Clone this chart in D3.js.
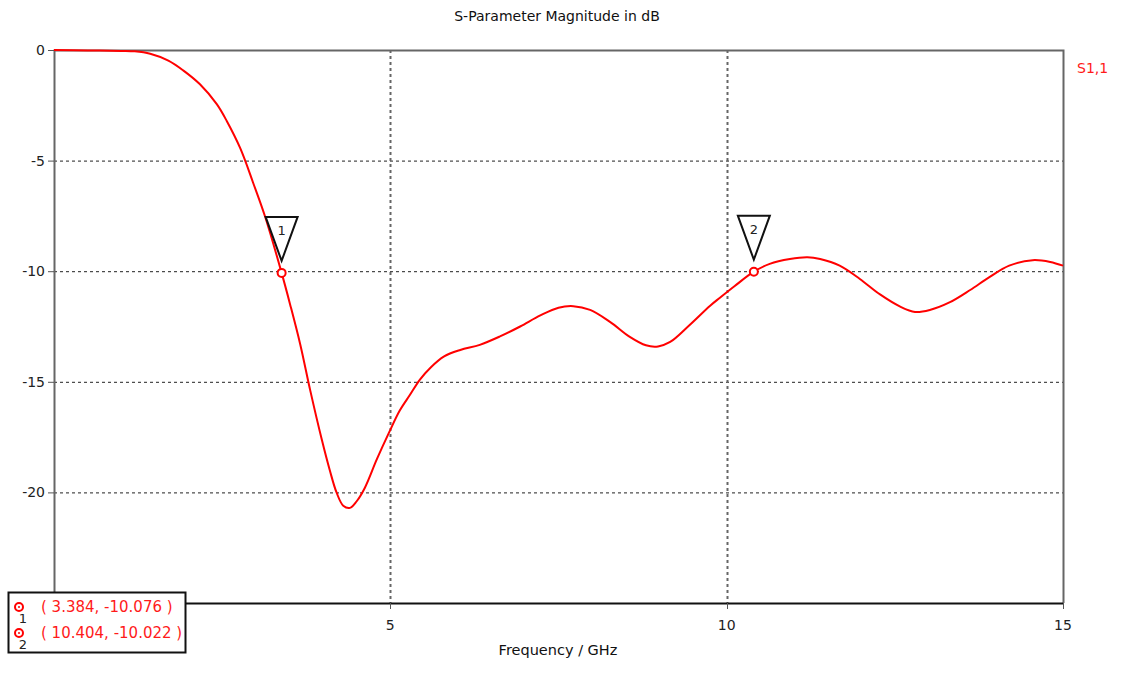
<!DOCTYPE html>
<html>
<head>
<meta charset="utf-8">
<script src="https://cdn.jsdelivr.net/npm/d3@7"></script>
<style>
  body { margin : 0; background : white; }
  text { font-family : "DejaVu Sans", sans-serif; }
</style>
</head>
<body>
<svg id="chart"></svg>
<script>
console.log("s-parameter chart loaded");

//frequency samples (GHz)
var freq = [0, 0.5, 1.0, 1.2, 1.43, 1.7, 1.92, 2.17, 2.42, 2.57, 2.77, 2.96, 3.14, 3.384, 3.51, 3.66, 3.81, 3.98, 4.1, 4.2, 4.3, 4.4, 4.5, 4.62, 4.8, 4.98,
            5.14, 5.29, 5.44, 5.6, 5.8, 6.04, 6.33, 6.63, 6.93, 7.23, 7.5, 7.72, 7.97, 8.27, 8.56, 8.8, 8.98, 9.16, 9.45, 9.75, 9.9, 10.12, 10.404,
            10.64, 10.94, 11.2, 11.39, 11.68, 11.98, 12.28, 12.58, 12.8, 13.02, 13.32, 13.62, 13.9, 14.2, 14.55, 14.81, 15];

//S1,1 magnitude in dB at each frequency
var s11 = [0, -0.02, -0.04, -0.06, -0.17, -0.48, -0.92, -1.55, -2.45, -3.22, -4.45, -6.0, -7.55, -10.076, -11.5, -13.3, -15.4, -17.6, -19.0, -20.0, -20.6, -20.7, -20.4, -19.8, -18.5, -17.3,
           -16.3, -15.6, -14.9, -14.35, -13.85, -13.56, -13.33, -12.95, -12.5, -12.0, -11.65, -11.58, -11.75, -12.3, -12.97, -13.35, -13.4, -13.2, -12.43, -11.57, -11.2, -10.67, -10.022,
           -9.67, -9.45, -9.37, -9.45, -9.75, -10.35, -11.05, -11.6, -11.84, -11.75, -11.4, -10.85, -10.28, -9.75, -9.5, -9.58, -9.75];

//marker positions and their labels
var markerNames = ["1", "2"];
var markerFreq = [3.384, 10.404];
var markerDb = [-10.076, -10.022];

//axis ticks
var xTicks = [5, 10, 15];
var yTicks = [0, -5, -10, -15, -20];

var width = 1121;
var height = 675;
var plot = {left : 54, right : 1063, top : 50, bottom : 603};

var svg = d3.select("#chart")
  .attr("width" , width)
  .attr("height" , height);

var x = d3.scaleLinear().domain([0 , 15]).range([plot.left , plot.right]);
var y = d3.scaleLinear().domain([0 , -25]).range([plot.top , plot.bottom]);

//horizontal dashed grid lines
svg.append("g").selectAll("line")
  .data(yTicks.filter(function (d) { return d !== 0; }))
  .enter().append("line")
  .attr("x1" , plot.left)
  .attr("x2" , plot.right)
  .attr("y1" , function (d) { return y(d) + 0.5; })
  .attr("y2" , function (d) { return y(d) + 0.5; })
  .style("stroke" , "#222")
  .style("stroke-dasharray" , "3,3");

//vertical dotted grid lines
svg.append("g").selectAll("line")
  .data(xTicks.filter(function (d) { return d !== 15; }))
  .enter().append("line")
  .attr("x1" , function (d) { return Math.round(x(d)) + 0.5; })
  .attr("x2" , function (d) { return Math.round(x(d)) + 0.5; })
  .attr("y1" , plot.top)
  .attr("y2" , plot.bottom)
  .style("stroke" , "#666")
  .style("stroke-width" , 2)
  .style("stroke-dasharray" , "3,3");

//frame round the plot: gray on three sides, black on the bottom
svg.append("path")
  .attr("d" , "M" + (plot.left + 0.5) + "," + plot.bottom + "V" + (plot.top + 0.5) + "H" + (plot.right + 0.5) + "V" + plot.bottom)
  .style("fill" , "none")
  .style("stroke" , "#666")
  .style("stroke-width" , 2);

svg.append("line")
  .attr("x1" , plot.left)
  .attr("x2" , plot.right)
  .attr("y1" , plot.bottom + 0.5)
  .attr("y2" , plot.bottom + 0.5)
  .style("stroke" , "#111")
  .style("stroke-width" , 2);

//y axis ticks and labels
var yAxis = svg.append("g");
yAxis.selectAll("line")
  .data(yTicks)
  .enter().append("line")
  .attr("x1" , plot.left - 6)
  .attr("x2" , plot.left)
  .attr("y1" , function (d) { return y(d) + 0.5; })
  .attr("y2" , function (d) { return y(d) + 0.5; })
  .style("stroke" , "#555");
yAxis.selectAll("text")
  .data(yTicks)
  .enter().append("text")
  .attr("x" , plot.left - 9)
  .attr("y" , function (d) { return y(d) + 5; })
  .attr("text-anchor" , "end")
  .style("font-size" , "14px")
  .style("fill" , "#222")
  .text(function (d) { return d; });

//x axis ticks and labels
var xAxis = svg.append("g");
xAxis.selectAll("line")
  .data(xTicks)
  .enter().append("line")
  .attr("x1" , function (d) { return Math.round(x(d)) + 0.5; })
  .attr("x2" , function (d) { return Math.round(x(d)) + 0.5; })
  .attr("y1" , plot.bottom)
  .attr("y2" , plot.bottom + 6)
  .style("stroke" , "#555");
xAxis.selectAll("text")
  .data(xTicks)
  .enter().append("text")
  .attr("x" , function (d) { return x(d); })
  .attr("y" , plot.bottom + 27)
  .attr("text-anchor" , "middle")
  .style("font-size" , "14px")
  .style("fill" , "#222")
  .text(function (d) { return d; });

//titles
svg.append("text")
  .attr("x" , 557)
  .attr("y" , 21)
  .attr("text-anchor" , "middle")
  .style("font-size" , "14px")
  .style("fill" , "#111")
  .text("S-Parameter Magnitude in dB");

svg.append("text")
  .attr("x" , 558)
  .attr("y" , 655)
  .attr("text-anchor" , "middle")
  .style("font-size" , "14.5px")
  .style("fill" , "#111")
  .text("Frequency / GHz");

svg.append("text")
  .attr("x" , 1077)
  .attr("y" , 73)
  .style("font-size" , "14px")
  .style("fill" , "#ff1a1a")
  .text("S1,1");

//the curve itself
var points = freq.map(function (f, i) { return [f , s11[i]]; });
var line = d3.line()
  .x(function (d) { return x(d[0]); })
  .y(function (d) { return y(d[1]); })
  .curve(d3.curveCatmullRom);

svg.append("path")
  .datum(points)
  .attr("d" , line)
  .style("fill" , "none")
  .style("stroke" , "#ff0000")
  .style("stroke-width" , 2);

//markers: circle on the curve plus a triangle flag above it
markerNames.forEach(function (name, i) {
  var mx = x(markerFreq[i]);
  var my = y(markerDb[i]);

  svg.append("path")
    .attr("d" , "M" + (mx - 16) + "," + (my - 56) + "H" + (mx + 16) + "L" + mx + "," + (my - 12) + "Z")
    .style("fill" , "white")
    .style("stroke" , "#111")
    .style("stroke-width" , 2);

  svg.append("text")
    .attr("x" , mx)
    .attr("y" , my - 38)
    .attr("text-anchor" , "middle")
    .style("font-size" , "13px")
    .style("fill" , "#222")
    .text(name);

  svg.append("circle")
    .attr("cx" , mx)
    .attr("cy" , my)
    .attr("r" , 4)
    .style("fill" , "white")
    .style("stroke" , "#ff0000")
    .style("stroke-width" , 2);
});

//marker readout box in the lower left
var box = svg.append("g");
box.append("rect")
  .attr("x" , 8.5)
  .attr("y" , 592.5)
  .attr("width" , 177)
  .attr("height" , 60)
  .style("fill" , "white")
  .style("stroke" , "#111")
  .style("stroke-width" , 2);

markerNames.forEach(function (name, i) {
  var rowY = 607 + i * 26;

  box.append("circle")
    .attr("cx" , 19)
    .attr("cy" , rowY)
    .attr("r" , 4)
    .style("fill" , "none")
    .style("stroke" , "#ff0000")
    .style("stroke-width" , 2);
  box.append("circle")
    .attr("cx" , 19)
    .attr("cy" , rowY)
    .attr("r" , 1)
    .style("fill" , "#ff0000");

  box.append("text")
    .attr("x" , 23)
    .attr("y" , rowY + 16)
    .attr("text-anchor" , "middle")
    .style("font-size" , "13px")
    .style("fill" , "#222")
    .text(name);

  box.append("text")
    .attr("x" , 41)
    .attr("y" , rowY + 5)
    .style("font-size" , "15px")
    .style("fill" , "#ff1a1a")
    .text("( " + markerFreq[i] + ", " + markerDb[i].toFixed(3) + " )");
});
</script>
</body>
</html>
